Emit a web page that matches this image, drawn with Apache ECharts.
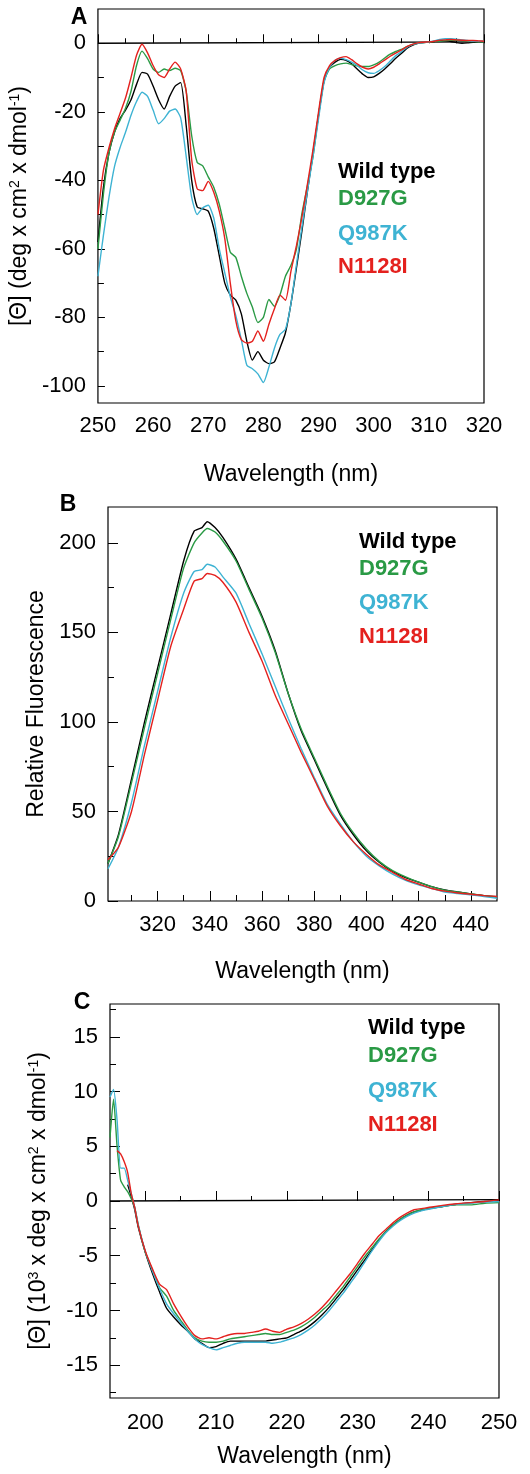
<!DOCTYPE html>
<html><head><meta charset="utf-8">
<script src="https://cdn.jsdelivr.net/npm/echarts@6/dist/echarts.min.js"></script>
<style>html,body{margin:0;padding:0;background:#fff}#c{width:530px;height:1474px}</style>
</head><body><div id="c"></div>
<script>
// ---------- Panel A : near-UV CD ----------
const wlA = [250,251,252,253,254,255,256,257,258,259,260,261,262,263,264,265,266,267,268,269,270,271,272,273,274,275,276,277,278,279,280,281,282,283,284,285,286,287,288,289,290,291,292,293,294,295,296,297,298,299,300,301,302,303,304,305,306,307,308,309,310,311,312,313,314,315,316,317,318,319,320];
const aWild = [-58,-42,-32,-26,-22,-19.5,-16.5,-12,-8.5,-9,-12.5,-16.5,-19.2,-15.5,-12.5,-11.5,-24,-40,-47.8,-48.3,-49,-54,-62,-70,-73.5,-75,-79,-87,-92.5,-90,-92.5,-93.5,-93,-89,-84.5,-76,-65.5,-54.6,-43,-32,-21,-11,-7,-5.5,-4.7,-5,-6,-7.5,-9,-10,-9.8,-8.8,-7.5,-6,-4.4,-3,-1.5,-0.6,0,0.2,0.3,0.5,0.8,0.7,0.5,0.2,0,0.1,0.3,0.4,0.5];
const aD927G = [-60,-44,-32,-26,-22.5,-19,-14,-6.5,-2.3,-4.5,-7.5,-8.5,-7.5,-8,-7.3,-8,-14,-27,-34.8,-35.8,-39,-42,-47,-54,-61,-62.5,-68,-73,-77,-81.5,-80,-74.8,-76.8,-73.5,-68,-64.8,-60,-49.6,-41.5,-33,-21,-11,-7.5,-6.5,-6,-5.8,-6.2,-6.6,-6.8,-6.8,-6.3,-5.5,-4.3,-3.2,-2.4,-1.8,-1,-0.4,0,0.2,0.3,0.5,0.6,0.8,0.9,0.9,0.8,0.6,0.5,0.4,0.4];
const aQ987K = [-68,-56,-45,-36,-30.5,-26,-21,-17,-14.3,-15.5,-19.5,-23.5,-22,-19.8,-19.2,-21.8,-33,-45,-50,-48,-47.3,-51,-60,-67,-74,-79.5,-86.5,-94,-95,-96.5,-99,-94.5,-89,-85,-83.5,-76,-64.5,-53.5,-43,-33,-22,-11.5,-7,-5,-4.3,-4.8,-5.5,-6.5,-7.8,-8.6,-8.8,-8,-6.8,-5.2,-3.6,-2.5,-1.2,-0.4,0,0.2,0.4,0.7,1.1,1.3,1.3,1.2,1,0.8,0.6,0.6,0.6];
const aN1128I = [-50,-37,-30.5,-25,-20.5,-16,-10,-3.5,-0.3,-2.8,-6.5,-9.2,-10,-7.5,-5.5,-7.5,-14,-34,-42.5,-43,-40.3,-43.5,-49,-57,-70,-81,-86.5,-87.5,-87,-84,-87,-82,-77.5,-73.5,-75,-66.5,-59,-50.6,-41,-31,-20,-10,-6.5,-5,-4.2,-3.9,-4.8,-6,-7,-7.5,-7,-6,-4.9,-3.8,-2.9,-2,-1,-0.3,0.1,0.3,0.4,0.6,0.9,1,1.1,1,0.9,0.8,0.8,0.7,0.6];
const baseA = [[250,0],[320,0.4]];
const xLabA = [250,260,270,280,290,300,310,320];
const xMinorA = [255,265,275,285,295,305,315];
const yLabA = [-100,-80,-60,-40,-20,0];
const yMinorA = [-90,-70,-50,-30,-10];

// ---------- Panel B : fluorescence ----------
const wlB = [301,305,310,315,320,325,330,334,337,339,342,345,350,355,360,365,370,375,380,385,390,395,400,405,410,415,420,425,430,435,440,445,450];
const bWild = [21,37,68,100,130,160,190,206.5,208.5,211.8,208.5,203,191,175,159,140,116,95,79,63,48,37,28,21.5,16.5,13,10.5,8,6.2,5,3.9,3,2.4];
const bD927G = [21,36,66,97,127,157,186,200,205.5,208,206,201,190,174,158,139,116,96,80,64,49,38,29,22,17,13.5,10.5,8,6,5,4,3,2.2];
const bQ987K = [18,30,55,87,117,147,172,184,185,188,186.5,181,172,155,138,120,102,85,69,54,43,33,25,19.5,15,11.5,9,7,5,4.2,3.5,2.5,1.5];
const bN1128I = [23,30,50,82,112,142,163,178.6,180,182.9,181.8,178,167,150,134,115,99,83,68,53,42,33,26,20,16,12,9.5,7,5.5,4.5,3.8,3,2.5];
const xLabB = [320,340,360,380,400,420,440];
const xMinorB = [310,330,350,370,390,410,430];
const yLabB = [0,50,100,150,200];
const yMinorB = [25,75,125,175];

// ---------- Panel C : far-UV CD ----------
const wlC = [195,195.5,196,196.5,197,197.5,198,198.5,199,200,201,202,203,204,205,206,207,208,209,210,211,212,213,214,215,216,217,218,219,220,221,222,223,224,225,226,227,228,229,230,231,232,233,234,235,236,237,238,239,240,242,244,246,248,250];
const cWild = [null,null,null,null,null,1.5,0.4,-0.8,-2.4,-4.7,-6.6,-8.3,-9.8,-10.6,-11.3,-11.9,-12.6,-13,-13.4,-13.3,-13,-12.8,-12.8,-12.8,-12.8,-12.8,-12.8,-12.7,-12.6,-12.5,-12.2,-11.9,-11.5,-11,-10.4,-9.7,-8.9,-8.1,-7.2,-6.3,-5.4,-4.5,-3.6,-2.8,-2.2,-1.7,-1.3,-1,-0.85,-0.7,-0.5,-0.3,-0.15,-0.05,0.03];
const cD927G = [5.8,9.3,5,1.9,1.3,0.85,0.2,-0.6,-2.2,-4.7,-6.3,-7.9,-8.7,-10,-10.9,-11.8,-12.5,-12.8,-12.9,-12.9,-12.8,-12.6,-12.5,-12.4,-12.3,-12.2,-12.1,-12.2,-12.2,-12,-11.8,-11.5,-11.1,-10.6,-10,-9.4,-8.6,-7.8,-6.9,-6,-5.1,-4.3,-3.5,-2.8,-2.2,-1.7,-1.3,-1,-0.8,-0.7,-0.5,-0.35,-0.35,-0.2,-0.15];
const cQ987K = [9.5,10.2,7.4,3,3,1.9,0.7,-0.6,-2.2,-4.6,-6.4,-8,-9.4,-10.3,-11.1,-11.9,-12.6,-13.1,-13.4,-13.6,-13.4,-13.2,-13,-12.9,-12.9,-12.9,-12.9,-13,-12.9,-12.7,-12.5,-12.2,-11.8,-11.3,-10.7,-10,-9.2,-8.4,-7.5,-6.6,-5.6,-4.6,-3.7,-2.9,-2.3,-1.8,-1.4,-1.1,-0.9,-0.75,-0.5,-0.3,-0.2,-0.1,-0.05];
const cN1128I = [null,null,4.6,4.3,3.6,2.6,0.7,-0.6,-2.3,-4.6,-6.2,-7.6,-8.1,-9.4,-10.5,-11.5,-12.3,-12.6,-12.5,-12.6,-12.4,-12.2,-12.1,-12.1,-12,-11.9,-11.7,-11.9,-12,-11.7,-11.5,-11.2,-10.8,-10.3,-9.7,-9,-8.2,-7.4,-6.6,-5.7,-4.8,-4,-3.2,-2.6,-2,-1.5,-1.1,-0.8,-0.7,-0.6,-0.4,-0.25,-0.15,-0.05,0.1];
const baseC = [[195,0],[250,0.12]];
const xLabC = [200,210,220,230,240,250];
const xMinorC = [205,215,225,235,245];
const yLabC = [-15,-10,-5,0,5,10,15];
const yMinorC = [-17.5,-12.5,-7.5,-2.5,2.5,7.5,12.5,17.5];

const names = ['Wild type','D927G','Q987K','N1128I'];
const colors = ['#000000','#2A9A45','#3EB3D3','#E4211E'];
const FONT = "'Liberation Sans', Arial, sans-serif";

const grids = [
  {left:96, right:46, top:9, height:394},
  {left:108, right:33, top:507, height:394},
  {left:110, right:31, top:1004, height:394}
];
const panels = [
  {wl:wlA, sets:[aWild,aD927G,aQ987K,aN1128I], base:baseA, xmin:250, xmax:320, ymin:-105, ymax:10,
   xLab:xLabA, xMinor:xMinorA, yLab:yLabA, yMinor:yMinorA, xMajLen:9, xMinLen:5, yMajLen:7, yMinLen:6,
   xName:'Wavelength (nm)', xGap:60, xMargin:12,
   yName:'[Θ] (deg x cm{sup|2} x dmol{sup|-1})', yGap:55},
  {wl:wlB, sets:[bWild,bD927G,bQ987K,bN1128I], base:null, xmin:301, xmax:450, ymin:0, ymax:220,
   xLab:xLabB, xMinor:xMinorB, yLab:yLabB, yMinor:yMinorB, xMajLen:10, xMinLen:6, yMajLen:10, yMinLen:6,
   xName:'Wavelength (nm)', xGap:59, xMargin:13,
   yName:'Relative Fluorescence', yGap:55},
  {wl:wlC, sets:[cWild,cD927G,cQ987K,cN1128I], base:baseC, xmin:195, xmax:250, ymin:-18, ymax:18,
   xLab:xLabC, xMinor:xMinorC, yLab:yLabC, yMinor:yMinorC, xMajLen:10, xMinLen:5, yMajLen:10, yMinLen:6,
   xName:'Wavelength (nm)', xGap:47, xMargin:14,
   yName:'[Θ] (10{sup|3} x deg x cm{sup|2} x dmol{sup|-1})', yGap:60}
];

const xAxis = [], yAxis = [], series = [];
const labelStyle = {color:'#000', fontSize:22, fontFamily:FONT};
const nameStyle = {color:'#000', fontSize:23, fontFamily:FONT,
  rich:{sup:{fontSize:14, fontFamily:FONT, color:'#000', verticalAlign:'top', padding:[0,0,8,0]}}};

panels.forEach((p, i) => {
  xAxis.push({gridIndex:i, type:'value', min:p.xmin, max:p.xmax, position:'bottom',
    axisLine:{show:false}, splitLine:{show:false},
    axisTick:{show:true, inside:true, length:p.xMajLen, customValues:p.xLab, lineStyle:{color:'#000', width:1}},
    axisLabel:{show:true, margin:p.xMargin, customValues:p.xLab, showMinLabel:true, showMaxLabel:true, ...labelStyle},
    name:p.xName, nameLocation:'middle', nameGap:p.xGap, nameTextStyle:{color:'#000', fontSize:23, fontFamily:FONT}});
  xAxis.push({gridIndex:i, type:'value', min:p.xmin, max:p.xmax, position:'bottom',
    axisLine:{show:false}, splitLine:{show:false}, axisLabel:{show:false},
    axisTick:{show:true, inside:true, length:p.xMinLen, customValues:p.xMinor, lineStyle:{color:'#000', width:1}}});
  yAxis.push({gridIndex:i, type:'value', min:p.ymin, max:p.ymax, position:'left',
    axisLine:{show:false}, splitLine:{show:false},
    axisTick:{show:true, inside:true, length:p.yMajLen, customValues:p.yLab, lineStyle:{color:'#000', width:1}},
    axisLabel:{show:true, margin:12, customValues:p.yLab, showMinLabel:true, showMaxLabel:true, ...labelStyle},
    name:p.yName, nameLocation:'middle', nameGap:p.yGap, nameTextStyle:nameStyle});
  yAxis.push({gridIndex:i, type:'value', min:p.ymin, max:p.ymax, position:'left',
    axisLine:{show:false}, splitLine:{show:false}, axisLabel:{show:false},
    axisTick:{show:true, inside:true, length:p.yMinLen, customValues:p.yMinor, lineStyle:{color:'#000', width:1}}});
  if (p.base) {
    series.push({type:'line', xAxisIndex:2*i, yAxisIndex:2*i, data:p.base, showSymbol:false, silent:true,
      lineStyle:{color:'#000', width:1.3}, z:1});
  }
  p.sets.forEach((vals, k) => {
    series.push({name:names[k], type:'line', xAxisIndex:2*i, yAxisIndex:2*i,
      data:p.wl.map((w, j) => [w, vals[j]]), showSymbol:false, smooth:0.2, connectNulls:false,
      lineStyle:{color:colors[k], width:1.4}, itemStyle:{color:colors[k]}, z:2+k});
  });
});

// legends & panel letters (text only)
const legendPos = [{x:338, ys:[172,199,234,267]}, {x:359, ys:[542,569,603,637]}, {x:368, ys:[1028,1056,1091,1125]}];
const letters = [{t:'A', x:79, y:18}, {t:'B', x:68, y:505}, {t:'C', x:82, y:1003}];
const graphic = [];
legendPos.forEach(lp => {
  names.forEach((n, k) => graphic.push({type:'text', x:lp.x, y:lp.ys[k],
    style:{text:n, fill:colors[k], font:"bold 22px " + FONT, textAlign:'left', textVerticalAlign:'middle'}}));
});
letters.forEach(l => graphic.push({type:'text', x:l.x, y:l.y,
  style:{text:l.t, fill:'#000', font:"bold 23px " + FONT, textAlign:'center', textVerticalAlign:'middle'}}));

const chart = echarts.init(document.getElementById('c'), null, {renderer:'canvas'});
chart.setOption({
  animation:false, backgroundColor:'#fff',
  grid: grids.map(g => ({...g, show:true, borderColor:'#000', borderWidth:1.2, backgroundColor:'transparent', containLabel:false})),
  xAxis, yAxis, series, graphic
});
</script></body></html>
